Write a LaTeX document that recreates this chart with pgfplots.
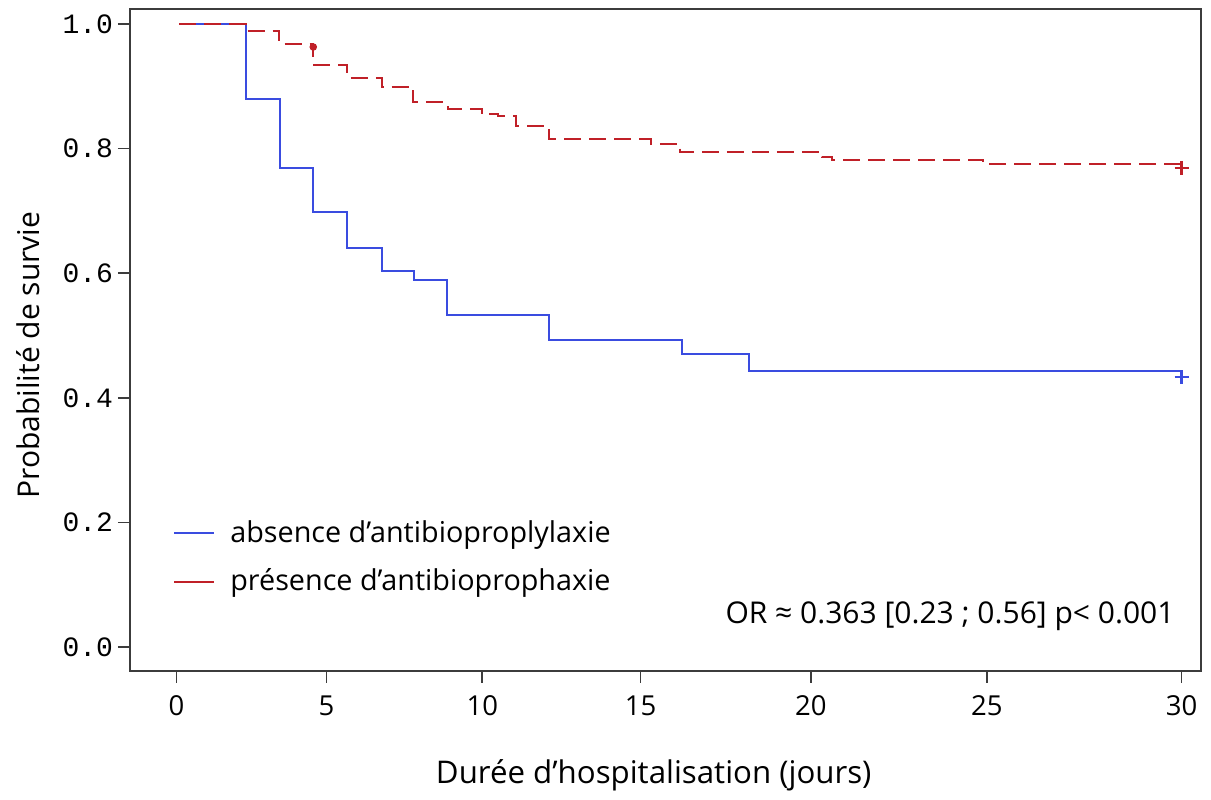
\documentclass[border=0pt]{standalone}
\usepackage{fontspec}
\setmainfont{Open Sans}
\setmonofont{Liberation Mono}
\usepackage{pgfplots}
\pgfplotsset{compat=1.18}
\definecolor{kmblue}{RGB}{58,76,224}
\definecolor{kmred}{RGB}{192,32,40}
\definecolor{framegray}{RGB}{60,60,60}
\begin{document}
\begin{tikzpicture}
\begin{axis}[
  scale only axis, width=428.4pt, height=264.8pt,
  % the day axis of the source is not evenly spaced: map days to its tick positions
  x coord trafo/.code={\pgfmathparse{(#1)<5 ? 176.5+30*(#1) : ((#1)<10 ? 326.5+31.16*((#1)-5) : ((#1)<15 ? 482.3+31.68*((#1)-10) : ((#1)<20 ? 640.7+34.06*((#1)-15) : ((#1)<25 ? 811+35.2*((#1)-20) : 987+38.94*((#1)-25)))))}},
  xmin=-1.55, xmax=30.5, ymin=-0.0385, ymax=1.024,
  xtick={0,5,10,15,20,25,30}, xticklabels={0,5,10,15,20,25,30},
  ytick={0,0.2,0.4,0.6,0.8,1}, yticklabels={0.0,0.2,0.4,0.6,0.8,1.0},
  tick align=outside, tick pos=left, major tick length=4.8pt,
  axis line style={framegray, line width=0.6pt},
  major tick style={framegray, line width=0.6pt},
  xticklabel style={font=\fontsize{11}{13}\selectfont, yshift=-1.5pt},
  yticklabel style={font=\fontsize{11.2}{13}\selectfont\ttfamily, xshift=1.5pt},
  xlabel={Durée d’hospitalisation (jours)},
  ylabel={Probabilité de survie},
  xlabel style={font=\fontsize{12.5}{15}\selectfont, at={(rel axis cs:0.489,-0.157)}, anchor=center},
  ylabel style={font=\fontsize{12}{15}\selectfont, at={(rel axis cs:-0.0952,0.477)}, anchor=center},
  legend cell align=left,
  legend style={draw=none, fill=none, at={(0.033,0.243)}, anchor=north west,
    font=\fontsize{11.5}{14}\selectfont, row sep=5pt},
  legend image code/.code={\draw[#1, solid] (0pt,0pt) -- (16pt,0pt); \path (20pt,0pt);},
]
\coordinate (sw) at (rel axis cs:0,0);
\coordinate (ne) at (rel axis cs:1,1);
\addplot[kmblue, line width=0.8pt, const plot mark left] coordinates {
  (0.1,1.0) (2.31,0.880) (3.45,0.768) (4.56,0.698) (5.67,0.640) (6.77,0.603)
  (7.80,0.589) (8.88,0.533) (12.10,0.493) (16.21,0.470) (18.19,0.4435) (30,0.4435)};
\addplot[kmred, line width=0.8pt, const plot mark left, dash pattern=on 6.8pt off 3.2pt] coordinates {
  (0.1,1.0) (2.31,0.989) (3.43,0.968) (4.56,0.934) (5.66,0.914) (6.77,0.899)
  (7.78,0.874) (8.89,0.864) (9.98,0.855) (10.5,0.853) (11.08,0.836) (12.11,0.815)
  (15.3,0.808) (16.15,0.795) (20.31,0.787) (20.6,0.781) (24.9,0.775) (30,0.771)};
\legend{absence d’antibioproplylaxie, présence d’antibioprophaxie}
\addplot[kmblue, only marks, mark=+, mark size=2.8pt, line width=1pt, forget plot] coordinates {(30,0.433)};
\addplot[kmred, only marks, mark=+, mark size=2.8pt, line width=1pt, forget plot] coordinates {(30,0.769)};
\addplot[kmred, only marks, mark=*, mark size=1.3pt, forget plot] coordinates {(4.56,0.963)};
\node[anchor=east, inner sep=0pt, font=\fontsize{12}{14}\selectfont] at (rel axis cs:0.9757,0.082) {OR ≈ 0.363 [0.23 ; 0.56] p< 0.001};
\end{axis}
\pgfresetboundingbox
\path ([xshift=-52pt,yshift=-51.6pt]sw) rectangle ([xshift=4pt,yshift=3.6pt]ne);
\end{tikzpicture}
\end{document}
